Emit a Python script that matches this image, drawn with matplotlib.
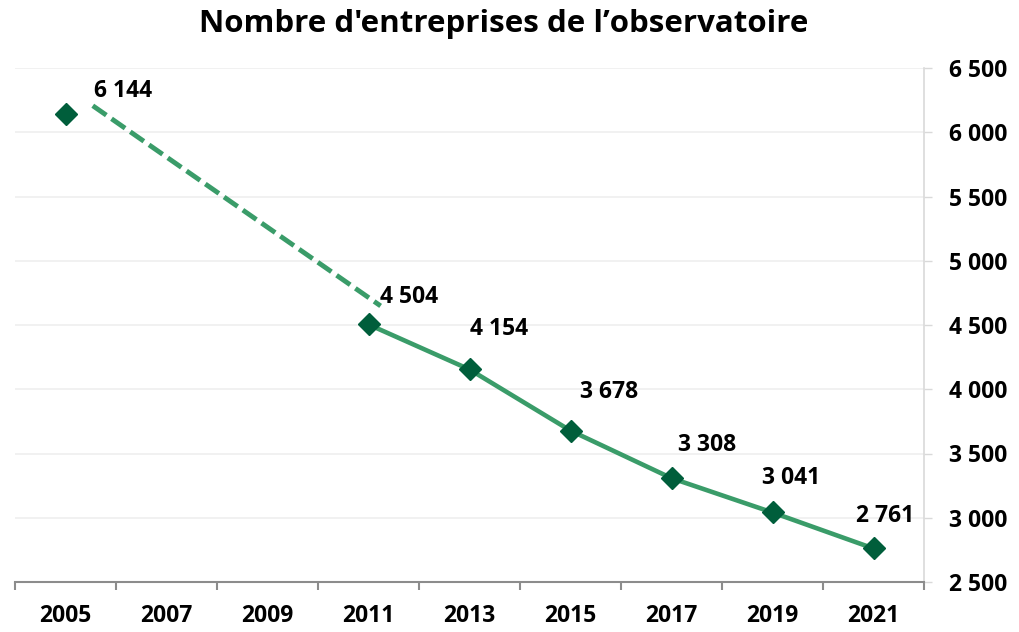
import matplotlib
matplotlib.use("Agg")
import matplotlib.pyplot as plt
import matplotlib.transforms as mtransforms
import numpy as np

years = ["2005", "2007", "2009", "2011", "2013", "2015", "2017", "2019", "2021"]
values = [6144, None, None, 4504, 4154, 3678, 3308, 3041, 2761]
title = "Nombre d'entreprises de l\u2019observatoire"
yticks = [2500, 3000, 3500, 4000, 4500, 5000, 5500, 6000, 6500]

# label offsets in pixels (dx, dy) relative to markers
label_offsets = [(28, 23), None, None, (12, 27), (1, 40), (10, 39), (6, 33), (-11, 34), (-17, 32)]

plt.rcParams['font.family'] = ['Open Sans', 'DejaVu Sans']
plt.rcParams['font.weight'] = 'bold'

line_col = "#3A9C69"
mark_col = "#005E3B"
FS = 16.5

fig = plt.figure(figsize=(10.19, 6.32), dpi=100)
ax = fig.add_axes([15/1019, 1-582/632, (924-15)/1019, (582-68)/632])

x = np.arange(len(years))
pts = [(xi, v) for xi, v in zip(x, values) if v is not None]
px = np.array([p[0] for p in pts], dtype=float)
py = np.array([p[1] for p in pts], dtype=float)

# solid line from 2011 onwards
ax.plot(px[1:], py[1:], color=line_col, lw=3.3, solid_capstyle='butt', zorder=3)

# dashed connector between 2005 and 2011 (drawn offset upward)
t0, t1 = 0.09, 1.04
xs = [px[0] + t0*(px[1]-px[0]), px[0] + t1*(px[1]-px[0])]
ys = [py[0] + t0*(py[1]-py[0]), py[0] + t1*(py[1]-py[0])]
off = mtransforms.offset_copy(ax.transData, fig=fig, x=0, y=27, units='dots')
ax.plot(xs, ys, color=line_col, lw=3.5, dashes=(3.4, 1.3), dash_capstyle='butt',
        transform=off, zorder=3)

# markers
ax.plot(px, py, linestyle='none', marker='D', markersize=11, color=mark_col, zorder=4)

# labels
for xi, v, o in zip(x, values, label_offsets):
    if v is None:
        continue
    tr = mtransforms.offset_copy(ax.transData, fig=fig, x=o[0], y=o[1], units='dots')
    ax.text(xi, v, f"{v:,}".replace(",", " "), transform=tr, ha='left', va='center',
            fontsize=FS, fontweight='bold', color='black', zorder=5)

ax.set_xlim(-0.5, len(years)-0.5)
ax.set_ylim(2500, 6500)

ax.yaxis.tick_right()
ax.set_yticks(yticks)
ax.set_yticklabels([f"{v:,}".replace(",", " ") for v in yticks], fontsize=FS, fontweight='bold')
ax.tick_params(axis='y', which='major', length=6, width=1, color='#d9d9d9', pad=12, labelcolor='black')
for lab in ax.get_yticklabels():
    lab.set_horizontalalignment('left')
ax.yaxis.grid(True, color='#efefef', lw=1.2)
ax.set_axisbelow(True)

ax.set_xticks(x)
ax.set_xticklabels(years, fontsize=FS, fontweight='bold')
ax.tick_params(axis='x', which='major', length=0, pad=16)
ax.set_xticks(np.arange(-0.5, len(years)), minor=True)
ax.tick_params(axis='x', which='minor', length=6, width=1.5, color='#8c8c8c', direction='out')

for s in ['left', 'top']:
    ax.spines[s].set_visible(False)
ax.spines['right'].set_color('#d9d9d9')
ax.spines['right'].set_linewidth(1.2)
ax.spines['bottom'].set_color('#8c8c8c')
ax.spines['bottom'].set_linewidth(1.5)

fig.text(504/1019, 1-24/632, title, ha='center', va='center', fontsize=22.5, fontweight='bold')

fig.savefig("out.png", dpi=100)
